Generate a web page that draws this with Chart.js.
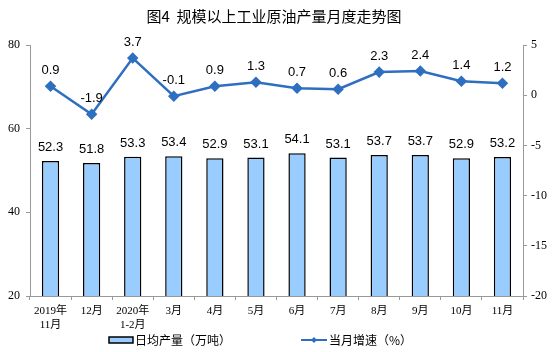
<!DOCTYPE html>
<html>
<head>
<meta charset="utf-8">
<script src="https://cdn.jsdelivr.net/npm/chart.js@4"></script>
<style>
  html, body { margin: 0; padding: 0; background: #fff; }
  #wrap { width: 552px; height: 352px; position: relative; }
</style>
</head>
<body>
<div id="wrap"><canvas id="chart"></canvas></div>
<script>
const months = [
  ['2019年', '11月'], '12月', ['2020年', '1-2月'], '3月', '4月', '5月',
  '6月', '7月', '8月', '9月', '10月', '11月'
];
const dailyOutput = [52.3, 51.8, 53.3, 53.4, 52.9, 53.1, 54.1, 53.1, 53.7, 53.7, 52.9, 53.2];
const growthRate = [0.9, -1.9, 3.7, -0.1, 0.9, 1.3, 0.7, 0.6, 2.3, 2.4, 1.4, 1.2];
const leftTicks = [20, 80, 20];   // min, max, step
const rightTicks = [-20, 5, 5];

const TITLE = '图4  规模以上工业原油产量月度走势图';
const BAR_FILL = '#99CCFF';
const LINE_BLUE = '#2F6FC0';
const CJK = '"Noto Sans CJK SC", sans-serif';

// value labels + title + legend, drawn on the canvas
const extras = {
  id: 'extras',
  afterDatasetsDraw(chart) {
    const ctx = chart.ctx;
    ctx.save();
    ctx.fillStyle = '#000';
    ctx.font = '13px "Liberation Sans", Arial, sans-serif';
    ctx.textAlign = 'center';
    ctx.textBaseline = 'bottom';
    chart.getDatasetMeta(1).data.forEach((bar, i) => {
      ctx.fillText(dailyOutput[i].toFixed(1), bar.x, bar.y - 7);
    });
    chart.getDatasetMeta(0).data.forEach((pt, i) => {
      ctx.fillText(growthRate[i].toFixed(1), pt.x, pt.y - 9);
    });
    ctx.restore();
  },
  afterDraw(chart) {
    const ctx = chart.ctx;
    ctx.save();
    ctx.fillStyle = '#000';
    ctx.font = '15px ' + CJK;
    ctx.textAlign = 'center';
    ctx.textBaseline = 'middle';
    ctx.fillText(TITLE, 274, 16);

    // legend
    const ly = 340;
    ctx.fillStyle = BAR_FILL;
    ctx.strokeStyle = '#000';
    ctx.lineWidth = 1.5;
    ctx.fillRect(109, ly - 3, 24, 6);
    ctx.strokeRect(109, ly - 3, 24, 6);
    ctx.fillStyle = '#000';
    ctx.font = '12px ' + CJK;
    ctx.textAlign = 'left';
    ctx.fillText('日均产量（万吨）', 135, ly);

    ctx.strokeStyle = LINE_BLUE;
    ctx.lineWidth = 2;
    ctx.beginPath();
    ctx.moveTo(301, ly);
    ctx.lineTo(327, ly);
    ctx.stroke();
    ctx.fillStyle = LINE_BLUE;
    ctx.beginPath();
    ctx.moveTo(314, ly - 3);
    ctx.lineTo(317, ly);
    ctx.lineTo(314, ly + 3);
    ctx.lineTo(311, ly);
    ctx.closePath();
    ctx.fill();
    ctx.fillStyle = '#000';
    ctx.fillText('当月增速（%）', 329, ly);
    ctx.restore();
  }
};

new Chart(document.getElementById('chart'), {
  data: {
    labels: months,
    datasets: [
      {
        type: 'line',
        label: '当月增速（%）',
        data: growthRate,
        yAxisID: 'y1',
        borderColor: LINE_BLUE,
        backgroundColor: LINE_BLUE,
        borderWidth: 2.5,
        pointStyle: 'rectRot',
        pointRadius: 4,
        pointHoverRadius: 4,
        tension: 0,
        order: 0
      },
      {
        type: 'bar',
        label: '日均产量（万吨）',
        data: dailyOutput,
        yAxisID: 'y',
        backgroundColor: BAR_FILL,
        borderColor: '#000',
        borderWidth: 1.5,
        barPercentage: 0.42,
        categoryPercentage: 1,
        order: 1
      }
    ]
  },
  options: {
    responsive: true,
    maintainAspectRatio: false,
    animation: false,
    layout: { padding: { top: 45, left: 0, right: 0, bottom: 0 } },
    plugins: {
      legend: { display: false },
      title: { display: false },
      tooltip: { enabled: false }
    },
    scales: {
      x: {
        offset: true,
        grid: {
          offset: true,
          drawOnChartArea: false,
          drawTicks: true,
          tickLength: 4,
          color: '#999'
        },
        border: { color: '#999' },
        ticks: {
          color: '#000',
          font: { family: '"Liberation Serif", "Noto Sans CJK SC", serif', size: 11, lineHeight: 1.3 },
          padding: 4,
          maxRotation: 0,
          autoSkip: false
        },
        afterFit(scale) { scale.height = 56; }
      },
      y: {
        position: 'left',
        min: leftTicks[0],
        max: leftTicks[1],
        ticks: {
          stepSize: leftTicks[2],
          color: '#000',
          font: { family: '"Liberation Serif", serif', size: 12 },
          padding: 6
        },
        grid: {
          drawOnChartArea: false,
          drawTicks: true,
          tickLength: 4,
          color: '#999'
        },
        border: { color: '#999' },
        afterFit(scale) { scale.width = 30; }
      },
      y1: {
        position: 'right',
        min: rightTicks[0],
        max: rightTicks[1],
        ticks: {
          stepSize: rightTicks[2],
          color: '#000',
          font: { family: '"Liberation Serif", serif', size: 12 },
          padding: 4
        },
        grid: {
          drawOnChartArea: false,
          drawTicks: true,
          tickLength: 4,
          color: '#999'
        },
        border: { color: '#999' },
        afterFit(scale) { scale.width = 29; }
      }
    }
  },
  plugins: [extras]
});
</script>
</body>
</html>
